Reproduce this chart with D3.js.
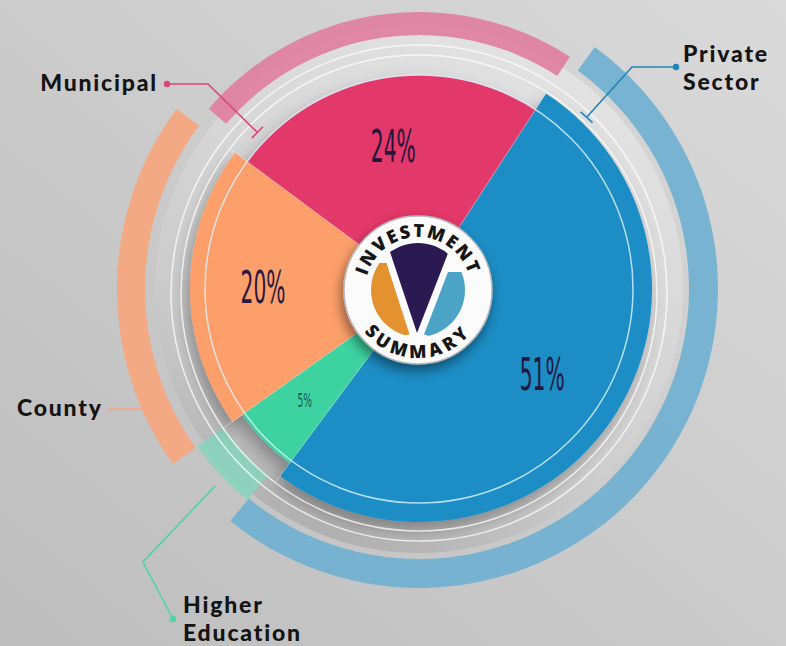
<!DOCTYPE html>
<html><head><meta charset="utf-8">
<script src="https://cdn.jsdelivr.net/npm/d3@7"></script>
<style>html,body{margin:0;padding:0;background:#cbcbcb;overflow:hidden}</style>
</head><body><svg id="chart" width="786" height="646"></svg>
<script>
// ---------- data ----------
const categories = ["Private Sector", "Higher Education", "County", "Municipal"];
const values = [51, 5, 20, 24];
const percentLabels = ["51%", "5%", "20%", "24%"];
const labelLines = [["Private", "Sector"], ["Higher", "Education"], ["County"], ["Municipal"]];
const centerTitle = ["INVESTMENT", "SUMMARY"];

// ---------- styles / layout ----------
const W = 786, H = 646, cx = 419, cy = 289;
const deg = Math.PI / 180;
const sliceColors = ["#1a8dc5", "#3dd3a0", "#fd9f6b", "#e3376b"];
const bandColors = ["#6eb0d1", "#88d3bb", "#f6a57c", "#df7d9d"];
const leaderColors = ["#1f86b8", "#4fd3a8", "#f6a57c", "#dc4677"];
const sliceOuter = [233, 217, 229, 214];
const bandRadii = [[270, 299], [240, 272], [274, 302], [254, 277]];
const bandPad = [[3, 2.5], [2.5, 0], [0, 0], [4, 0]];
const labelRadius = [150, 160, 156, 145];
const labelSize = [44, 20, 44, 44];
const labelColor = ["#21183f", "#175e52", "#281a40", "#22153c"];

const svg = d3.select("#chart");
const defs = svg.append("defs");

const bg = defs.append("linearGradient").attr("id", "bg").attr("x1", 1).attr("y1", 0).attr("x2", 0).attr("y2", 1);
bg.append("stop").attr("offset", 0).attr("stop-color", "#dadada");
bg.append("stop").attr("offset", 1).attr("stop-color", "#bdbdbd");

const rg = defs.append("linearGradient").attr("id", "ringGrad").attr("x1", 0.7).attr("y1", 0).attr("x2", 0.3).attr("y2", 1);
rg.append("stop").attr("offset", 0).attr("stop-color", "#ffffff").attr("stop-opacity", 0.35);
rg.append("stop").attr("offset", 0.55).attr("stop-color", "#ffffff").attr("stop-opacity", 0.1);
rg.append("stop").attr("offset", 1).attr("stop-color", "#6a6a6a").attr("stop-opacity", 0.28);

const sh = defs.append("filter").attr("id", "shadow").attr("x", -0.3).attr("y", -0.3).attr("width", 1.6).attr("height", 1.6);
sh.append("feDropShadow").attr("dx", -4).attr("dy", 8).attr("stdDeviation", 8).attr("flood-color", "#000").attr("flood-opacity", 0.3);
const sh2 = defs.append("filter").attr("id", "badgeShadow").attr("x", -0.5).attr("y", -0.5).attr("width", 2).attr("height", 2);
sh2.append("feDropShadow").attr("dx", -2).attr("dy", 6).attr("stdDeviation", 6).attr("flood-color", "#000").attr("flood-opacity", 0.45);

svg.append("rect").attr("width", W).attr("height", H).attr("fill", "url(#bg)");

const g = svg.append("g").attr("transform", `translate(${cx},${cy})`);

// ring behind pie
g.append("circle").attr("r", 264).attr("fill", "url(#ringGrad)");

const pie = d3.pie().sort(null).value(d => d).startAngle(33 * deg).endAngle(393 * deg);
const arcs = pie(values);

// outer bands
g.selectAll("path.band").data(arcs).join("path").attr("class", "band")
  .attr("d", (d, i) => d3.arc().innerRadius(bandRadii[i][0]).outerRadius(bandRadii[i][1])
      .startAngle(d.startAngle + bandPad[i][0] * deg).endAngle(d.endAngle + bandPad[i][1] * deg)())
  .attr("fill", (d, i) => bandColors[i]).attr("opacity", 0.9);

// white guide circles (outer)
const gc = svg.append("g").attr("transform", `translate(${cx},${cy + 4})`);
[238, 248].forEach(r => gc.append("circle").attr("r", r).attr("fill", "none")
  .attr("stroke", "#ffffff").attr("stroke-opacity", 0.75).attr("stroke-width", 1.5));

// pie slices
const pg = g.append("g").attr("filter", "url(#shadow)");
pg.selectAll("path.slice").data(arcs).join("path").attr("class", "slice")
  .attr("d", (d, i) => d3.arc().innerRadius(0).outerRadius(sliceOuter[i])(d))
  .attr("fill", (d, i) => sliceColors[i]);

// slice separators
g.selectAll("line.sep").data(arcs).join("line").attr("class", "sep")
  .attr("x1", 0).attr("y1", 0)
  .attr("x2", (d, i) => Math.sin(d.startAngle) * 240)
  .attr("y2", (d, i) => -Math.cos(d.startAngle) * 240)
  .attr("stroke", "#ffffff").attr("stroke-opacity", 0.35).attr("stroke-width", 1);

// inner white circle
g.append("circle").attr("r", 214).attr("fill", "none").attr("stroke", "#dff4ff")
  .attr("stroke-opacity", 0.8).attr("stroke-width", 1.5);

// percent labels
arcs.forEach((d, i) => {
  const c = d3.arc().innerRadius(labelRadius[i]).outerRadius(labelRadius[i]).centroid(d);
  g.append("text").attr("transform", `translate(${c[0]},${c[1]}) scale(0.46,1)`)
    .attr("text-anchor", "middle").attr("dominant-baseline", "central")
    .attr("font-family", "DejaVu Sans").attr("font-size", labelSize[i])
    .attr("fill", labelColor[i]).text(percentLabels[i]);
});

// ---------- badge ----------
const b = g.append("g").attr("transform", "translate(-1,1)");
b.append("circle").attr("r", 74).attr("fill", "#fbfbfb").attr("stroke", "#b9b9b9").attr("stroke-width", 1.5)
  .attr("filter", "url(#badgeShadow)");
defs.append("clipPath").attr("id", "innerClip").append("circle").attr("cx", cx - 1).attr("cy", cy + 1).attr("r", 47);
const clipG = svg.append("g").attr("clip-path", "url(#innerClip)")
  .append("g").attr("transform", `translate(${cx - 1},${cy + 1})`);
clipG.append("polygon").attr("points", "-60,-27 -31.5,-27 -8.5,44.2 -60,60").attr("fill", "#e3922f");
clipG.append("polygon").attr("points", "30,-18 60,-18 60,60 6,44.5").attr("fill", "#4ba4c5");
clipG.append("polygon").attr("points", "-31,-60 34,-60 34,-47 -1,43 -31,-47").attr("fill", "#2b1a52");

const rt = 53, rb = 68;
defs.append("path").attr("id", "topArc")
  .attr("d", `M${cx - 1 - rt},${cy + 1} A${rt},${rt} 0 0 1 ${cx - 1 + rt},${cy + 1}`);
defs.append("path").attr("id", "botArc")
  .attr("d", `M${cx - 1 - rb},${cy + 1} A${rb},${rb} 0 0 0 ${cx - 1 + rb},${cy + 1}`);
svg.append("text").attr("font-family", "Open Sans").attr("font-weight", 800).attr("font-size", 18)
  .attr("fill", "#161616").attr("letter-spacing", 2)
  .append("textPath").attr("href", "#topArc").attr("startOffset", "50%").attr("text-anchor", "middle")
  .text(centerTitle[0]);
svg.append("text").attr("font-family", "Open Sans").attr("font-weight", 800).attr("font-size", 18)
  .attr("fill", "#161616").attr("letter-spacing", 4)
  .append("textPath").attr("href", "#botArc").attr("startOffset", "50%").attr("text-anchor", "middle")
  .text(centerTitle[1]);

// ---------- category labels ----------
const polar = (a, r) => [cx + Math.sin(a) * r, cy - Math.cos(a) * r];
const leaders = [
  { dot: [676, 67], elbow: [632, 67], end: polar(arcs[0].startAngle + 11.3 * deg, 240), tick: true },
  { dot: [173, 619], elbow: [143, 562], end: polar(arcs[1].startAngle + 9.4 * deg, 283), tick: false },
  { dot: null, elbow: [108, 409], end: [150, 409], tick: false },
  { dot: [167, 84], elbow: [208, 84], end: polar(arcs[3].startAngle + 7.5 * deg, 225), tick: true }
];
const textPos = [
  { x: 683, y: 62, anchor: "start" },
  { x: 183, y: 613, anchor: "start" },
  { x: 17, y: 416, anchor: "start" },
  { x: 158, y: 91, anchor: "end" }
];
leaders.forEach((L, i) => {
  const pts = L.dot ? [L.dot, L.elbow, L.end] : [L.elbow, L.end];
  svg.append("path").attr("d", d3.line()(pts)).attr("fill", "none")
    .attr("stroke", leaderColors[i]).attr("stroke-width", i === 2 ? 2.5 : 1.6)
    .attr("stroke-opacity", i === 2 ? 0.7 : 1);
  if (L.dot) svg.append("circle").attr("cx", L.dot[0]).attr("cy", L.dot[1]).attr("r", 3.2).attr("fill", leaderColors[i]);
  if (L.tick) {
    const dx = L.end[0] - L.elbow[0], dy = L.end[1] - L.elbow[1], len = Math.hypot(dx, dy);
    const nx = -dy / len * 8, ny = dx / len * 8;
    svg.append("line").attr("x1", L.end[0] - nx).attr("y1", L.end[1] - ny)
      .attr("x2", L.end[0] + nx).attr("y2", L.end[1] + ny)
      .attr("stroke", leaderColors[i]).attr("stroke-width", 1.6);
  }
  labelLines[i].forEach((s, k) => svg.append("text")
    .attr("x", textPos[i].x).attr("y", textPos[i].y + k * 28)
    .attr("text-anchor", textPos[i].anchor).attr("font-family", "Lato").attr("font-weight", 900)
    .attr("font-size", 23).attr("letter-spacing", 1.8).attr("fill", "#141414").text(s));
});
</script></body></html>
